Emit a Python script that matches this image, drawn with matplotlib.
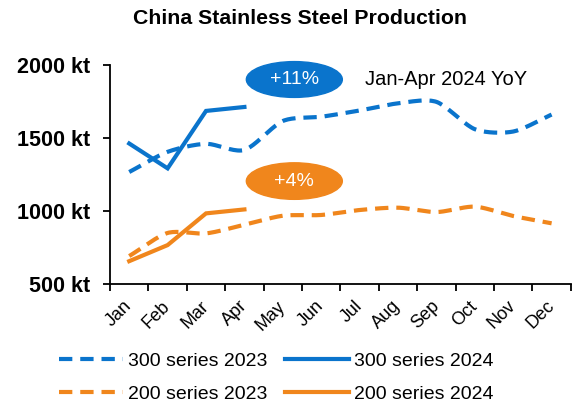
import numpy as np
import matplotlib.pyplot as plt
from matplotlib.patches import Ellipse

months = ['Jan', 'Feb', 'Mar', 'Apr', 'May', 'Jun', 'Jul', 'Aug', 'Sep', 'Oct', 'Nov', 'Dec']
s300_2023 = [1267, 1405, 1460, 1418, 1616, 1645, 1688, 1737, 1747, 1560, 1544, 1660]
s300_2024 = [1462, 1292, 1685, 1712]
s200_2023 = [692, 850, 847, 906, 968, 973, 1007, 1023, 993, 1030, 966, 916]
s200_2024 = [657, 767, 984, 1011]
yoy_300 = '+11%'
yoy_200 = '+4%'

blue = '#0A74CC'
orange = '#F0861C'


def smooth(y, n=20, tension=0.8):
    # Cardinal spline through the monthly points
    y = np.asarray(y, dtype=float)
    x = np.arange(len(y), dtype=float)
    px = np.concatenate([[2 * x[0] - x[1]], x, [2 * x[-1] - x[-2]]])
    py = np.concatenate([[2 * y[0] - y[1]], y, [2 * y[-1] - y[-2]]])
    xs, ys = [], []
    t = np.linspace(0, 1, n, endpoint=False)
    h00 = 2 * t ** 3 - 3 * t ** 2 + 1
    h10 = t ** 3 - 2 * t ** 2 + t
    h01 = -2 * t ** 3 + 3 * t ** 2
    h11 = t ** 3 - t ** 2
    for i in range(1, len(px) - 2):
        for p, out in ((px, xs), (py, ys)):
            m1 = tension * 0.5 * (p[i + 1] - p[i - 1])
            m2 = tension * 0.5 * (p[i + 2] - p[i])
            out.extend(h00 * p[i] + h10 * m1 + h01 * p[i + 1] + h11 * m2)
    xs.append(x[-1])
    ys.append(y[-1])
    return np.array(xs), np.array(ys)


plt.rcParams['font.family'] = ['Liberation Sans', 'DejaVu Sans']

fig = plt.figure(figsize=(5.76, 4.03), dpi=100)
ax = fig.add_axes([0.191, 0.295, 0.8, 0.544])

dash = (0, (3.2, 1.9))
lw = 3.0
x23, y23 = smooth(s300_2023)
l1, = ax.plot(x23, y23, color=blue, lw=lw, ls=dash, label='300 series 2023')
l2, = ax.plot(range(len(s300_2024)), s300_2024, color=blue, lw=lw, label='300 series 2024',
              solid_joinstyle='miter')
x23, y23 = smooth(s200_2023)
l3, = ax.plot(x23, y23, color=orange, lw=lw, ls=dash, label='200 series 2023')
l4, = ax.plot(range(len(s200_2024)), s200_2024, color=orange, lw=lw, label='200 series 2024',
              solid_joinstyle='miter')

ax.set_xlim(-0.5, 11.5)
ax.set_ylim(500, 2000)
ax.set_yticks([500, 1000, 1500, 2000])
ax.set_yticklabels([f'{v} kt' for v in [500, 1000, 1500, 2000]], fontsize=15.5, fontweight='bold')
ax.set_xticks(range(12))
ax.set_xticklabels(months, rotation=45, fontsize=13, ha='right', va='center',
                   rotation_mode='anchor')
ax.set_xticks(np.arange(-0.5, 12, 1), minor=True)
ax.tick_params(axis='x', which='major', length=0, pad=14)
ax.tick_params(axis='x', which='minor', length=5, width=1.3, direction='out')
ax.tick_params(axis='y', length=5, width=1.3, pad=9)
for side in ['top', 'right']:
    ax.spines[side].set_visible(False)
for side in ['left', 'bottom']:
    ax.spines[side].set_linewidth(1.3)

# YoY badges
ax.add_patch(Ellipse((4.3, 1900), 2.5, 245, color=blue, clip_on=False, zorder=5))
ax.text(4.3, 1900, yoy_300, color='white', fontsize=14, ha='center', va='center', zorder=6)
ax.add_patch(Ellipse((4.3, 1205), 2.5, 250, color=orange, clip_on=False, zorder=5))
ax.text(4.3, 1205, yoy_200, color='white', fontsize=14, ha='center', va='center', zorder=6)
ax.text(8.26, 1900, 'Jan-Apr 2024 YoY', fontsize=14.5, ha='center', va='center')

fig.text(0.521, 0.953, 'China Stainless Steel Production', fontsize=15.3, fontweight='bold',
         ha='center', va='center')

fig.legend(handles=[l1, l3, l2, l4], loc='lower center', bbox_to_anchor=(0.48, -0.044), ncol=2,
           frameon=False, fontsize=14, handlelength=3.3, handletextpad=0.25, columnspacing=0.9,
           labelspacing=0.8)

fig.savefig('out.png', dpi=100)
